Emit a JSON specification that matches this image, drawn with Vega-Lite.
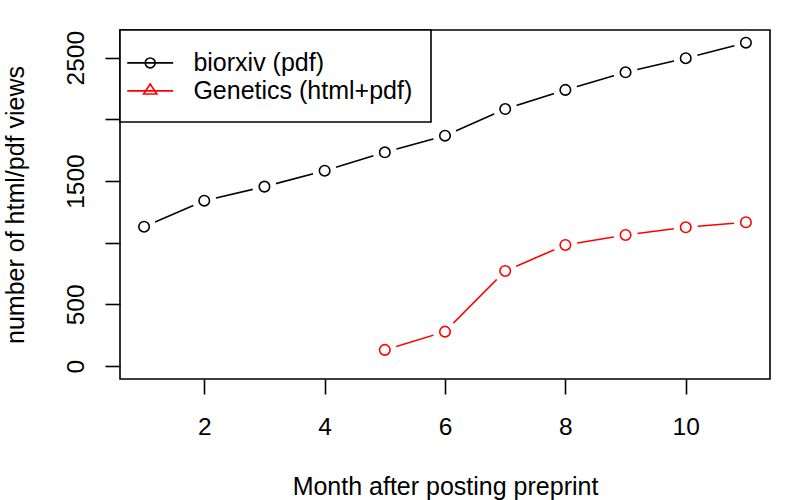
{
  "$schema": "https://vega.github.io/schema/vega-lite/v6.json",
  "width": 650,
  "height": 349,
  "autosize": "none",
  "padding": {"left": 120, "top": 30, "right": 30, "bottom": 121},
  "background": "white",
  "data": {
    "values": [
      {"month": 1, "views": 1130, "series": "biorxiv (pdf)"},
      {"month": 2, "views": 1341, "series": "biorxiv (pdf)"},
      {"month": 3, "views": 1455, "series": "biorxiv (pdf)"},
      {"month": 4, "views": 1584, "series": "biorxiv (pdf)"},
      {"month": 5, "views": 1733, "series": "biorxiv (pdf)"},
      {"month": 6, "views": 1868, "series": "biorxiv (pdf)"},
      {"month": 7, "views": 2084, "series": "biorxiv (pdf)"},
      {"month": 8, "views": 2239, "series": "biorxiv (pdf)"},
      {"month": 9, "views": 2382, "series": "biorxiv (pdf)"},
      {"month": 10, "views": 2496, "series": "biorxiv (pdf)"},
      {"month": 11, "views": 2622, "series": "biorxiv (pdf)"},
      {"month": 5, "views": 131, "series": "Genetics (html+pdf)"},
      {"month": 6, "views": 279, "series": "Genetics (html+pdf)"},
      {"month": 7, "views": 771, "series": "Genetics (html+pdf)"},
      {"month": 8, "views": 982, "series": "Genetics (html+pdf)"},
      {"month": 9, "views": 1063, "series": "Genetics (html+pdf)"},
      {"month": 10, "views": 1125, "series": "Genetics (html+pdf)"},
      {"month": 11, "views": 1166, "series": "Genetics (html+pdf)"}
    ]
  },
  "encoding": {
    "x": {
      "field": "month",
      "type": "quantitative",
      "scale": {"domain": [0.6, 11.4], "nice": false, "zero": false},
      "axis": {
        "values": [2, 4, 6, 8, 10],
        "title": "Month after posting preprint",
        "labelPadding": 40,
        "labelBaseline": "alphabetic",
        "titleY": 115,
        "titleBaseline": "alphabetic"
      }
    },
    "y": {
      "field": "views",
      "type": "quantitative",
      "scale": {"domain": [-104.8, 2724.8], "nice": false, "zero": false},
      "axis": {
        "values": [0, 500, 1000, 1500, 2000, 2500],
        "format": "d",
        "labelExpr": "datum.value == 1000 || datum.value == 2000 ? '' : datum.label",
        "labelAngle": -90,
        "labelAlign": "center",
        "labelBaseline": "alphabetic",
        "labelPadding": 21.7,
        "title": "number of html/pdf views",
        "titleAngle": -90,
        "titleAlign": "center",
        "titleBaseline": "alphabetic",
        "titleX": -96.7,
        "titleY": 174.5
      }
    }
  },
  "layer": [
    {
      "mark": {"type": "line", "strokeWidth": 1.6},
      "encoding": {
        "color": {
          "field": "series",
          "type": "nominal",
          "scale": {"domain": ["biorxiv (pdf)", "Genetics (html+pdf)"], "range": ["black", "#ff0000"]},
          "legend": {
            "title": null,
            "orient": "none",
            "legendX": 0,
            "legendY": 0,
            "padding": 17.9,
            "rowPadding": 0,
            "symbolSize": 762,
            "labelOffset": 25.5,
            "labelFont": "Liberation Sans",
            "labelFontSize": 25,
            "labelColor": "black",
            "labelBaseline": "middle",
            "labelLimit": 400,
            "encode": {
              "legend": {"update": {"stroke": {"value": "black"}, "strokeWidth": {"value": 1.6}, "fill": {"value": "white"}}},
              "symbols": {
                "update": {
                  "shape": {"signal": "datum.value == 'biorxiv (pdf)' ? 'M-1.86,0L1.47,0M0.164,0A0.36,0.36 0 1 1 -0.556,0A0.36,0.36 0 1 1 0.164,0' : 'M-1.86,0L1.47,0M-0.196,-0.5L0.284,0.22L-0.676,0.22Z'"},
                  "fill": {"value": "transparent"},
                  "strokeWidth": {"value": 1.6}
                }
              }
            }
          }
        }
      }
    },
    {
      "mark": {"type": "point", "shape": "circle", "filled": true, "color": "white", "opacity": 1, "size": 576}
    },
    {
      "mark": {"type": "point", "shape": "circle", "filled": false, "opacity": 1, "size": 110, "strokeWidth": 1.6},
      "encoding": {
        "color": {"field": "series", "type": "nominal"}
      }
    }
  ],
  "config": {
    "view": {"stroke": "black", "strokeWidth": 1.6},
    "font": "Liberation Sans",
    "axis": {
      "domain": false,
      "grid": false,
      "ticks": true,
      "tickColor": "black",
      "tickWidth": 1.6,
      "tickSize": 15,
      "labelFont": "Liberation Sans",
      "labelFontSize": 24.5,
      "labelColor": "black",
      "titleFont": "Liberation Sans",
      "titleFontSize": 25,
      "titleFontWeight": "normal",
      "titleColor": "black"
    }
  }
}
